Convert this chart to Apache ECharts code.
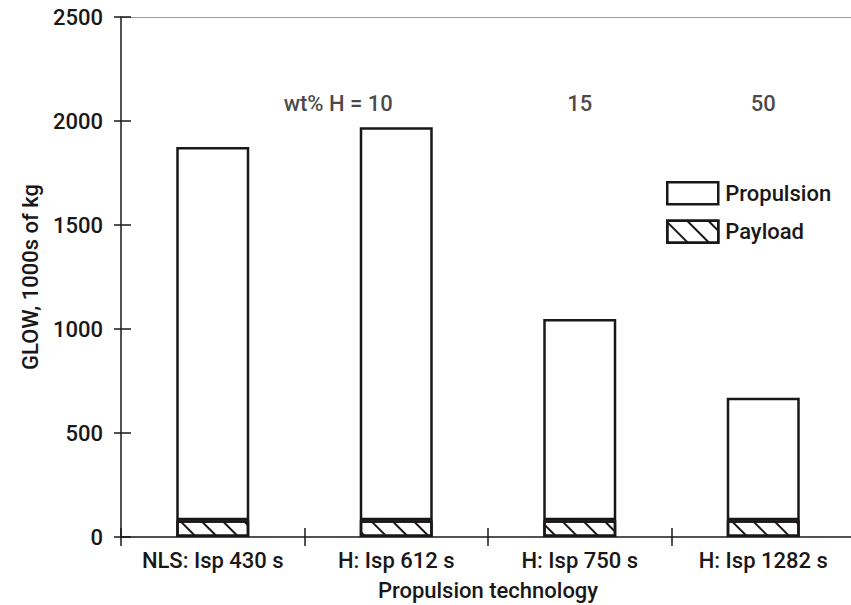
<!DOCTYPE html>
<html>
<head>
<meta charset="utf-8">
<script src="https://cdn.jsdelivr.net/npm/echarts@6/dist/echarts.min.js"></script>
<style>html,body{margin:0;padding:0;background:#fff}#c{width:851px;height:605px}</style>
</head>
<body>
<div id="c"></div>
<script>
const categories = ['NLS: Isp 430 s', 'H: Isp 612 s', 'H: Isp 750 s', 'H: Isp 1282 s'];
const payload = [80, 80, 80, 80];
const propulsion = [1795, 1890, 968, 590];
const annotations = ['', 'wt% H = 10', '15', '50'];
const annotationValue = 2082;
const yMin = 0, yMax = 2500, yStep = 500;

const INK = '#1a1718';
const FONT = 'Roboto';
const FS = 22;
const txt = { color: INK, fontFamily: FONT, fontSize: FS, fontWeight: 500 };

const chart = echarts.init(document.getElementById('c'), null, { renderer: 'svg' });

const barStyle = { borderColor: INK, borderWidth: 2.5, color: '#ffffff' };

chart.setOption({
  animation: false,
  backgroundColor: '#ffffff',
  grid: { left: 121, top: 17, width: 734, height: 520, containLabel: false, outerBoundsMode: 'none' },
  legend: {
    data: ['Propulsion', 'Payload'],
    orient: 'vertical',
    left: 661, top: 176,
    itemWidth: 51, itemHeight: 22, itemGap: 14,
    icon: 'rect',
    itemStyle: { borderColor: INK, borderWidth: 2.5 },
    textStyle: Object.assign({}, txt, { padding: [0, 0, 0, 2] })
  },
  xAxis: [
    {
      type: 'category', data: categories, position: 'bottom',
      axisLine: { show: true, lineStyle: { color: INK, width: 1.5 } },
      axisTick: { show: true, inside: false, length: 9, lineStyle: { color: INK, width: 1.5 } },
      axisLabel: Object.assign({ margin: 12, interval: 0 }, txt),
      name: 'Propulsion technology', nameLocation: 'middle', nameGap: 42,
      nameTextStyle: txt
    },
    {
      type: 'category', data: categories, position: 'bottom',
      axisLine: { show: false },
      axisTick: { show: true, inside: true, length: 9, lineStyle: { color: INK, width: 1.5 } },
      axisLabel: { show: false }
    },
    {
      type: 'category', data: categories, position: 'top',
      axisLine: { show: true, lineStyle: { color: '#9a9a9a', width: 1.2 } },
      axisTick: { show: false },
      axisLabel: { show: false }
    }
  ],
  yAxis: [
    {
      type: 'value', min: yMin, max: yMax, interval: yStep, position: 'left',
      axisLine: { show: true, lineStyle: { color: INK, width: 1.5 } },
      axisTick: { show: true, inside: false, length: 7, lineStyle: { color: INK, width: 1.5 } },
      splitLine: { show: false },
      axisLabel: Object.assign({ margin: 18, formatter: v => String(v) }, txt),
      name: 'GLOW, 1000s of kg', nameLocation: 'middle', nameGap: 80,
      nameTextStyle: txt
    },
    {
      type: 'value', min: yMin, max: yMax, interval: yStep, position: 'left',
      axisLine: { show: false },
      axisTick: { show: true, inside: true, length: 10, lineStyle: { color: INK, width: 1.5 } },
      splitLine: { show: false },
      axisLabel: { show: false }
    }
  ],
  series: [
    {
      name: 'Payload', type: 'bar', stack: 'glow', barWidth: 73,
      data: payload,
      itemStyle: Object.assign({}, barStyle, {
        decal: {
          symbol: 'rect', symbolSize: 1,
          dashArrayX: [1, 0], dashArrayY: [1.2, 12.8],
          rotation: Math.PI / 4,
          color: INK, backgroundColor: '#ffffff'
        }
      })
    },
    {
      name: 'Propulsion', type: 'bar', stack: 'glow', barWidth: 73,
      data: propulsion,
      itemStyle: barStyle
    },
    {
      name: 'annot', type: 'scatter', symbolSize: 0, silent: true,
      data: annotations.map((a, i) => ({
        value: [categories[i], annotationValue],
        label: { show: a !== '', formatter: a, position: 'inside', offset: i === 1 ? [-58, 0] : [0, 0] }
      })),
      label: Object.assign({ show: true }, txt)
    }
  ]
});
</script>
</body>
</html>
